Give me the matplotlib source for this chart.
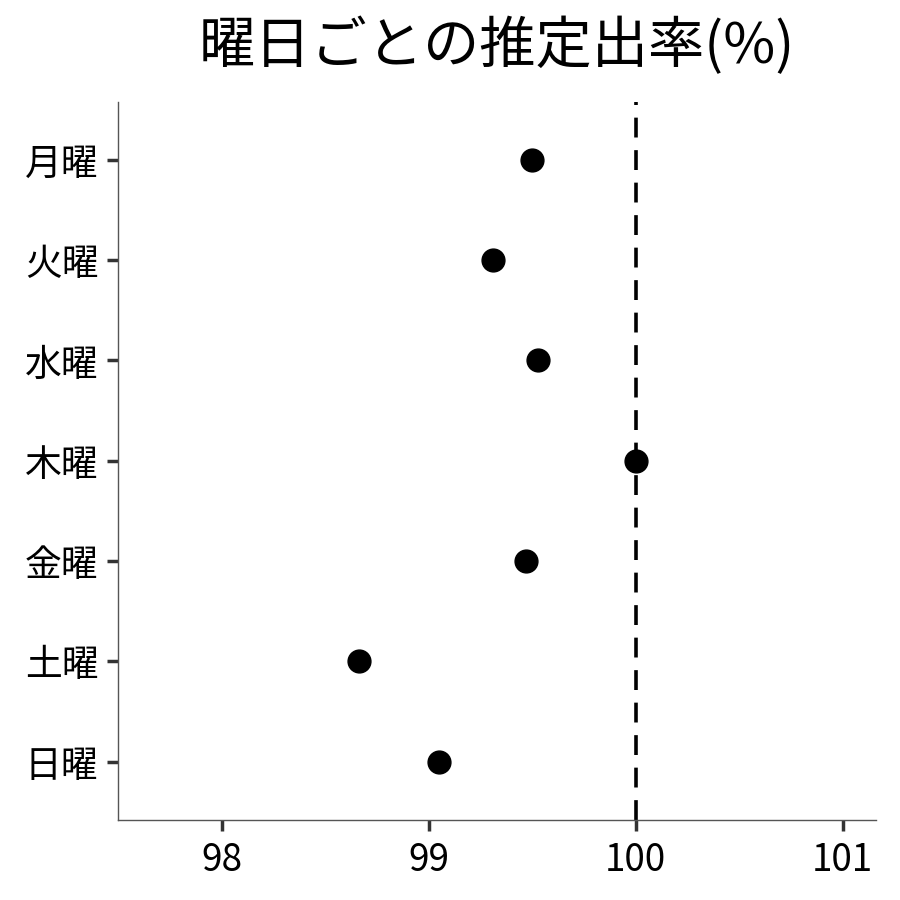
import matplotlib
matplotlib.use("Agg")
import matplotlib.pyplot as plt

plt.rcParams['font.family'] = ['Noto Sans CJK JP', 'DejaVu Sans']

# 曜日ごとの推定出率(%)
days = ['月曜', '火曜', '水曜', '木曜', '金曜', '土曜', '日曜']
rates = [99.50, 99.31, 99.53, 100.00, 99.47, 98.66, 99.05]
x_ticks = [98, 99, 100, 101]
ref_value = 100

fig = plt.figure(figsize=(9, 9), dpi=100)
ax = fig.add_axes([0.131, 0.089, 0.842, 0.798])

ypos = list(range(len(days)))[::-1]
ax.axvline(ref_value, color='black', linestyle=(0, (5.5, 3.5)), linewidth=2.6, zorder=1)
ax.scatter(rates, ypos, s=270, color='black', zorder=3)

ax.set_yticks(ypos)
ax.set_yticklabels(days)
ax.set_xticks(x_ticks)
ax.set_xlim(97.497, 101.16)
ax.set_ylim(-0.58, 6.58)

for side in ['top', 'right']:
    ax.spines[side].set_visible(False)
for side in ['left', 'bottom']:
    ax.spines[side].set_color('#555555')
    ax.spines[side].set_linewidth(1.0)

ax.tick_params(axis='both', length=8, width=2.5, color='#333333', labelsize=26.5, labelcolor='black')
ax.tick_params(axis='y', pad=6)
ax.tick_params(axis='x', pad=7)

ax.set_title('曜日ごとの推定出率(%)', fontsize=40.5, pad=28)

fig.savefig('out.png', dpi=100)
